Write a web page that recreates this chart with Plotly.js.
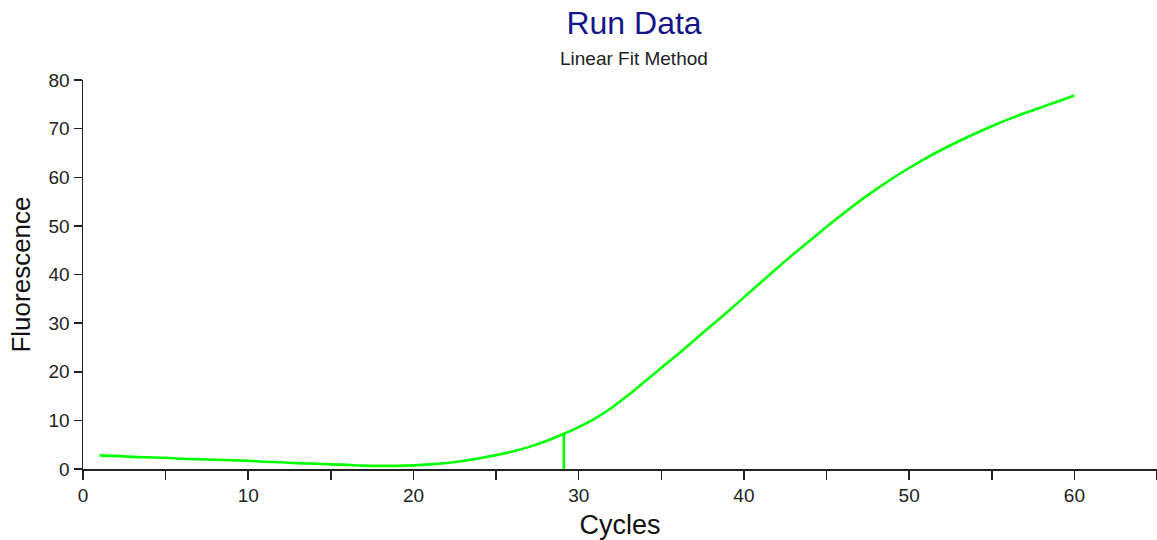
<!DOCTYPE html>
<html>
<head>
<meta charset="utf-8">
<script src="https://cdn.plot.ly/plotly-3.0.1.min.js"></script>
<style>html,body{margin:0;padding:0;background:#fff;}#chart{width:1157px;height:540px;}</style>
</head>
<body>
<div id="chart"></div>
<script>
const cycles = [1,2,3,4,5,6,7,8,9,10,11,12,13,14,15,16,17,18,19,20,21,22,23,24,25,26,27,28,29,30,31,32,33,34,35,36,37,38,39,40,41,42,43,44,45,46,47,48,49,50,51,52,53,54,55,56,57,58,59,60];
const fluorescence = [2.8,2.7,2.5,2.4,2.3,2.1,2.0,1.9,1.8,1.7,1.5,1.4,1.2,1.1,0.95,0.85,0.7,0.65,0.65,0.75,0.95,1.25,1.65,2.2,2.85,3.6,4.55,5.7,7.1,8.6,10.4,12.6,15.2,18.0,20.8,23.6,26.5,29.4,32.3,35.3,38.3,41.3,44.2,47.0,49.8,52.5,55.1,57.5,59.8,61.9,63.9,65.7,67.4,69.0,70.5,71.9,73.2,74.4,75.6,76.8];
const ctX = [29.1, 29.1];
const ctY = [0, 7.4];
const xTickVals = [0,5,10,15,20,25,30,35,40,45,50,55,60,65];
const xTickText = ['0','','10','','20','','30','','40','','50','','60',''];
const yTickVals = [0,10,20,30,40,50,60,70,80];

const green = '#00ff00';
const traces = [
  {x: cycles, y: fluorescence, type: 'scatter', mode: 'lines', line: {color: green, width: 2.6, shape: 'spline', smoothing: 0.8}, hoverinfo: 'x+y'},
  {x: ctX, y: ctY, type: 'scatter', mode: 'lines', line: {color: green, width: 2.6}, hoverinfo: 'skip'}
];
const font = 'Liberation Sans, Arial, sans-serif';
const layout = {
  width: 1157, height: 540,
  margin: {l: 83, r: 0, t: 80, b: 71},
  paper_bgcolor: '#ffffff', plot_bgcolor: '#ffffff',
  showlegend: false,
  font: {family: font, color: '#222222', size: 19},
  title: {text: 'Run Data', font: {family: font, size: 32, color: '#14148a'}, xref: 'container', x: 0.548, xanchor: 'center', yref: 'container', y: 0.978, yanchor: 'top'},
  annotations: [
    {text: 'Linear Fit Method', xref: 'paper', yref: 'paper', x: 0.513, y: 1.054, xanchor: 'center', yanchor: 'middle', showarrow: false, font: {family: font, size: 19, color: '#222222'}}
  ],
  xaxis: {
    range: [0, 65], showgrid: false, zeroline: false, showline: true, linecolor: '#222222', linewidth: 1.5,
    ticks: 'outside', ticklen: 9, tickwidth: 1.5, tickcolor: '#222222',
    tickmode: 'array', tickvals: xTickVals, ticktext: xTickText,
    tickfont: {family: font, size: 19, color: '#222222'},
    title: {text: 'Cycles', font: {family: font, size: 27, color: '#111111'}, standoff: 12}
  },
  yaxis: {
    range: [0, 80], showgrid: false, zeroline: false, showline: true, linecolor: '#222222', linewidth: 1.5,
    ticks: 'outside', ticklen: 8, tickwidth: 1.5, tickcolor: '#222222',
    tickmode: 'array', tickvals: yTickVals,
    tickfont: {family: font, size: 19, color: '#222222'},
    title: {text: 'Fluorescence', font: {family: font, size: 26, color: '#111111'}, standoff: 10}
  }
};
Plotly.newPlot('chart', traces, layout, {displayModeBar: false, staticPlot: true});
</script>
</body>
</html>
